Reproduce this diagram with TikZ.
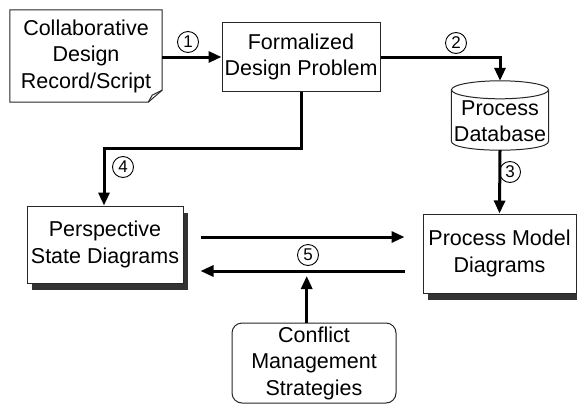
\documentclass[tikz,border=0pt]{standalone}
\usepackage{fontspec}
\setmainfont{Liberation Sans}
\usetikzlibrary{arrows.meta,calc,shadows}
\begin{document}
\begin{tikzpicture}[x=1pt,y=-1pt,
  boxline/.style={draw=black!85, line width=1pt},
  txt/.style={align=center, font=\fontsize{21.5}{26.5}\selectfont, inner sep=0pt},
  box/.style={txt, boxline, fill=white},
  shade/.style={drop shadow={shadow xshift=5pt, shadow yshift=-7pt, fill=black!80, opacity=1}},
  flow/.style={line width=3pt, -{Triangle[length=13pt,width=11pt]}},
  num/.style={draw, circle, line width=0.9pt, minimum size=21pt, inner sep=0pt,
              font=\fontsize{17}{17}\selectfont}]
\useasboundingbox (0,0) rectangle (577,404);

% document with a folded corner
\node[txt, minimum width=152pt, minimum height=92pt] (collab) at (86,56)
  {Collaborative\\Design\\Record/Script};
\draw[boxline] (collab.north west) -- (collab.north east)
  -- ($(collab.south east)+(0,-12)$) -- ($(collab.south east)+(-14,0)$)
  -- (collab.south west) -- cycle;
\draw[boxline] ($(collab.south east)+(0,-12)$) -- ($(collab.south east)+(-10,-7)$)
  -- ($(collab.south east)+(-14,0)$);

\node[box, minimum width=158pt, minimum height=68pt] (formal) at (301,57)
  {Formalized\\Design Problem};

% process database (cylinder)
\node[minimum width=97pt, minimum height=69pt, inner sep=0pt] (db) at (500,115.5) {};
\draw[boxline, fill=white] ($(db.north west)+(0,9)$) -- ($(db.south west)+(0,-9)$)
  .. controls ($(db.south west)+(0,3)$) and ($(db.south east)+(0,3)$) .. ($(db.south east)+(0,-9)$)
  -- ($(db.north east)+(0,9)$);
\draw[boxline, fill=white] ($(db.north)+(0,9)$) ellipse [x radius=48.5, y radius=9];
\node[txt] at ($(db.center)+(0,5.5)$) {Process\\Database};

\node[box, shade, minimum width=156pt, minimum height=77pt] (persp) at (105,244.5)
  {Perspective\\State Diagrams};
\node[box, shade, minimum width=153pt, minimum height=79pt] (pm) at (499.5,253.5)
  {Process Model\\Diagrams};
\node[box, rounded corners=10pt, minimum width=164pt, minimum height=80pt] (conflict) at (314,363)
  {Conflict\\Management\\Strategies};

% connectors
\draw[flow] (collab.east |- formal.west) -- (formal.west);
\draw[flow] (formal.east) -| (db.north);
\draw[flow] (db.south) -- (pm.north);
\draw[flow] (formal.south) -- ++(0,57) -| ([xshift=-1pt]persp.north);
\draw[flow] ([xshift=17pt,yshift=7.5pt]persp.east) -- ([xshift=-18pt,yshift=16.5pt]pm.west);
\draw[flow] ([xshift=-18pt,yshift=-17.5pt]pm.west) -- ([xshift=17pt,yshift=-26.5pt]persp.east);
\coordinate (m5) at (306.7,276);
\draw[flow] (conflict.north -| m5) -- (m5);

% step numbers
\node[num] (n1) at (188,42) {1};
\node[num] (n2) at (456,43) {2};
\node[num] (n3) at (510,172) {3};
\node[num] (n4) at (123,167) {4};
\node[num] (n5) at (308,255) {5};
\end{tikzpicture}
\end{document}
